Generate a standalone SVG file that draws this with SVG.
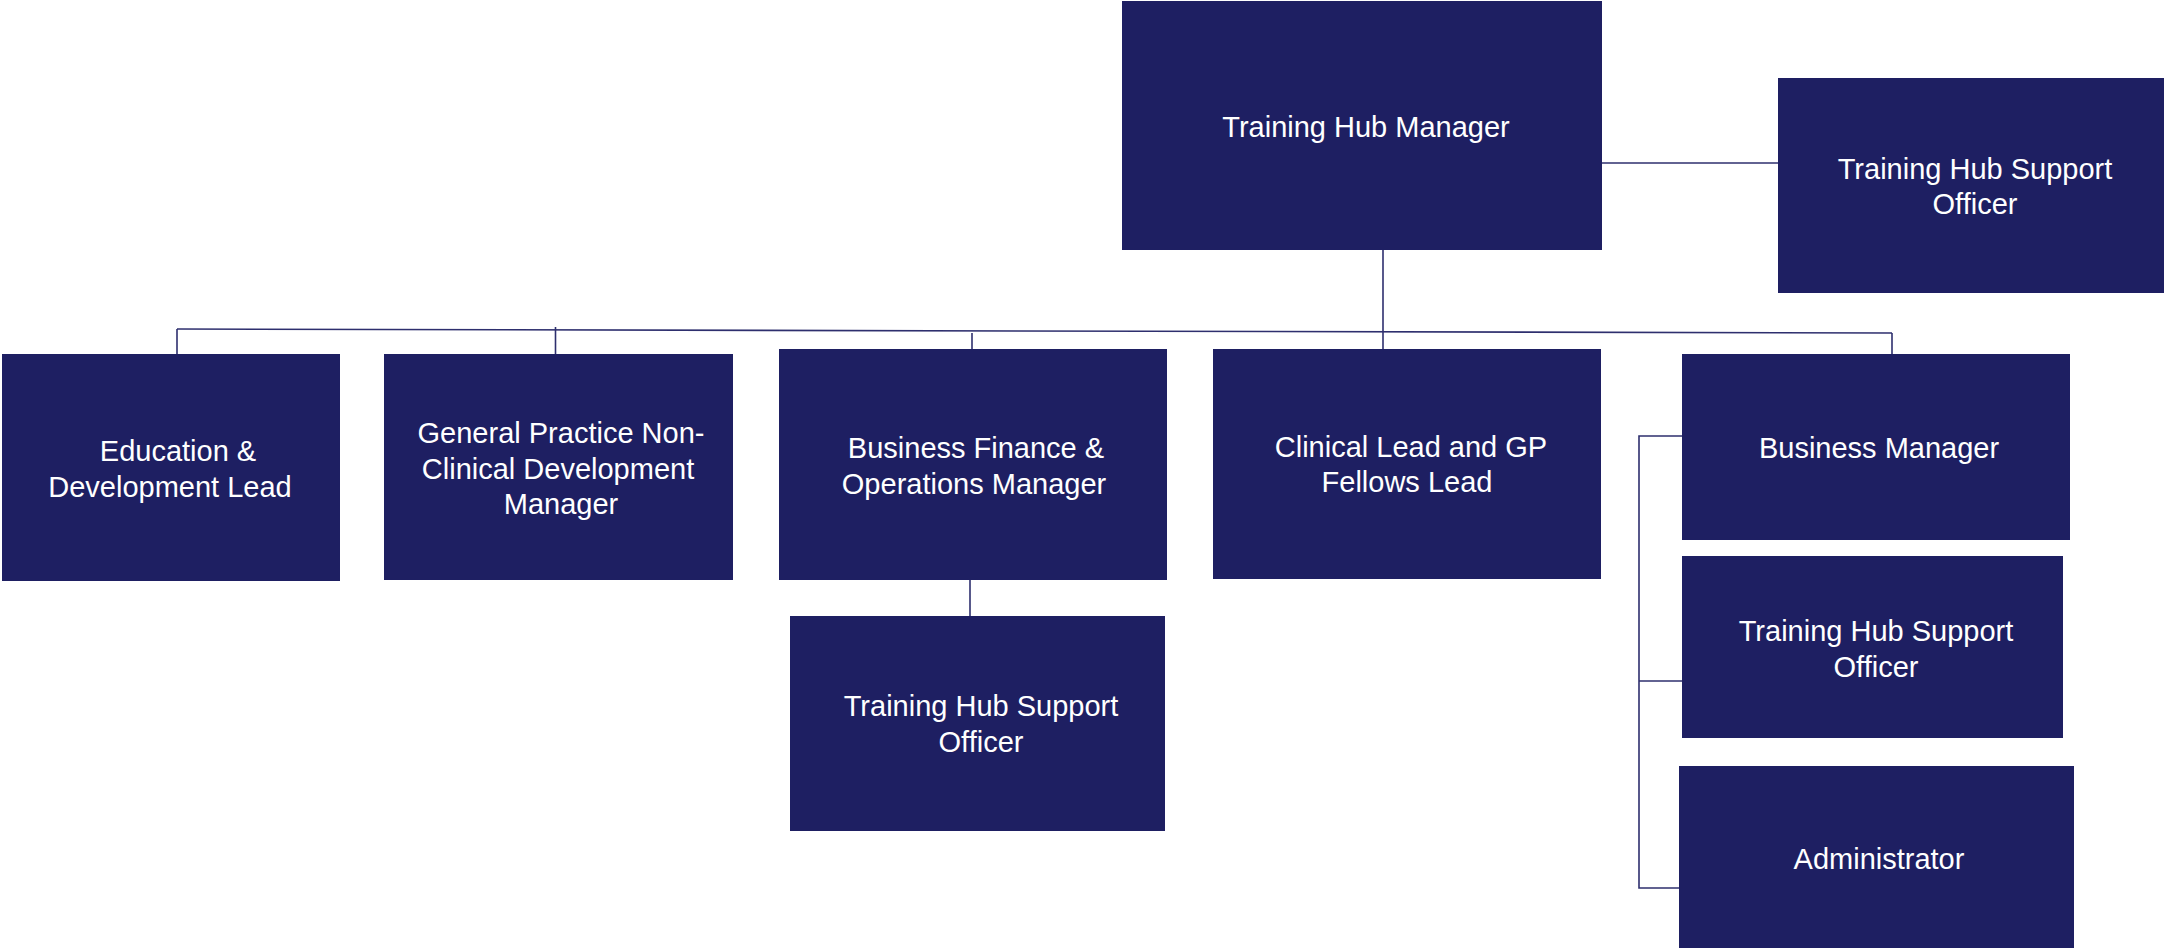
<svg xmlns="http://www.w3.org/2000/svg" width="2164" height="948" viewBox="0 0 2164 948">
<style>
.box{fill:#1E1F62}
.t{font-family:"Liberation Sans",Arial,sans-serif;font-size:29px;fill:#FFFFFF;text-anchor:middle}
.c{stroke:#2E2F6E;stroke-width:1.6;fill:none}
</style>
<rect width="2164" height="948" fill="#FFFFFF"/>
<g id="connectors">
<line class="c" x1="1602" y1="163" x2="1778" y2="163"/>
<line class="c" x1="1383" y1="250" x2="1383" y2="349"/>
<line class="c" x1="177" y1="329" x2="1892" y2="333"/>
<line class="c" x1="177" y1="329" x2="177" y2="354"/>
<line class="c" x1="555.5" y1="327" x2="555.5" y2="354"/>
<line class="c" x1="972" y1="333" x2="972" y2="349"/>
<line class="c" x1="1892" y1="333" x2="1892" y2="354"/>
<line class="c" x1="970" y1="580" x2="970" y2="616"/>
<polyline class="c" points="1682,436 1639,436 1639,888 1679,888"/>
<line class="c" x1="1639" y1="681" x2="1682" y2="681"/>
</g>
<g id="training-hub-manager">
<rect class="box" x="1122" y="1" width="480" height="249"/>
<text class="t" x="1366" y="137">Training Hub Manager</text>
</g>
<g id="support-officer-top">
<rect class="box" x="1778" y="78" width="386" height="215"/>
<text class="t" x="1975" y="179">Training Hub Support</text>
<text class="t" x="1975" y="214">Officer</text>
</g>
<g id="education-lead">
<rect class="box" x="2" y="354" width="338" height="227"/>
<text class="t" x="178" y="461">Education &amp;</text>
<text class="t" x="170" y="497">Development Lead</text>
</g>
<g id="gp-non-clinical">
<rect class="box" x="384" y="354" width="349" height="226"/>
<text class="t" x="561" y="443">General Practice Non-</text>
<text class="t" x="558" y="479">Clinical Development</text>
<text class="t" x="561" y="514">Manager</text>
</g>
<g id="business-finance">
<rect class="box" x="779" y="349" width="388" height="231"/>
<text class="t" x="976" y="458">Business Finance &amp;</text>
<text class="t" x="974" y="494">Operations Manager</text>
</g>
<g id="clinical-lead">
<rect class="box" x="1213" y="349" width="388" height="230"/>
<text class="t" x="1411" y="457">Clinical Lead and GP</text>
<text class="t" x="1407" y="492">Fellows Lead</text>
</g>
<g id="business-manager">
<rect class="box" x="1682" y="354" width="388" height="186"/>
<text class="t" x="1879" y="458">Business Manager</text>
</g>
<g id="support-officer-right">
<rect class="box" x="1682" y="556" width="381" height="182"/>
<text class="t" x="1876" y="641">Training Hub Support</text>
<text class="t" x="1876" y="677">Officer</text>
</g>
<g id="administrator">
<rect class="box" x="1679" y="766" width="395" height="182"/>
<text class="t" x="1879" y="869">Administrator</text>
</g>
<g id="support-officer-lower">
<rect class="box" x="790" y="616" width="375" height="215"/>
<text class="t" x="981" y="716">Training Hub Support</text>
<text class="t" x="981" y="752">Officer</text>
</g>
</svg>
